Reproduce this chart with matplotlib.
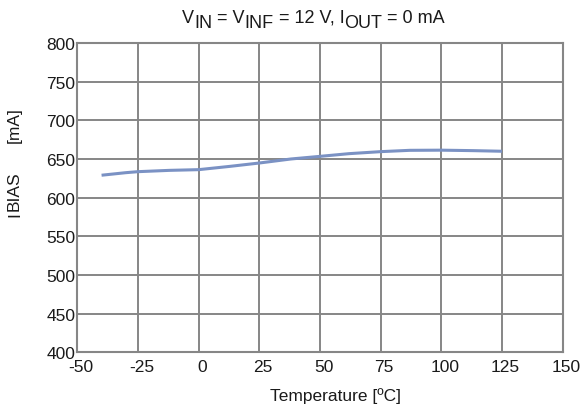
import matplotlib
matplotlib.use('Agg')
from matplotlib import pyplot as plt
from matplotlib import transforms

plt.rcParams['font.family'] = ['Liberation Sans', 'DejaVu Sans']

# bias current vs temperature, VIN = VINF = 12 V, IOUT = 0 mA
temp = [-40, -30, -25, -12, 0, 13, 25, 38, 50, 62, 75, 87, 100, 113, 125]
ibias = [629, 632.3, 633.6, 635.3, 636.2, 640.5, 644.8, 650, 653.4,
         656.9, 659.5, 661.2, 661.4, 660.8, 660]

xticks = [-50, -25, 0, 25, 50, 75, 100, 125, 150]
yticks = [400, 450, 500, 550, 600, 650, 700, 750, 800]

# title pieces, 1 = lowered subscript
title_parts = [('V', 0), ('IN', 1), (' = V', 0), ('INF', 1), (' = 12 V, I', 0),
               ('OUT', 1), (' = 0 mA', 0)]

grid_col = '#868686'
line_col = '#7b92c4'
txt_col = '#1a1a1a'
fs = 12.5

fig = plt.figure(figsize=(5.84, 4.10), dpi=100)
ax = fig.add_axes([77.3/584, 1 - 353.3/410, 485.4/584, 309.3/410])

ax.plot(temp, ibias, color=line_col, lw=2.2, solid_capstyle='butt', zorder=3)

ax.set_xlim(-50, 150)
ax.set_ylim(400, 800)
ax.set_xticks(xticks)
ax.set_yticks(yticks)
ax.set_xticklabels([str(t) for t in xticks])
ax.set_yticklabels([str(t) for t in yticks])
ax.grid(True, color=grid_col, lw=1.4)
ax.set_axisbelow(True)
for s in ax.spines.values():
    s.set_color(grid_col)
    s.set_linewidth(1.5)
ax.tick_params(axis='x', length=0, pad=5, labelsize=fs, labelcolor=txt_col)
ax.tick_params(axis='y', length=0, pad=1.5, labelsize=fs, labelcolor=txt_col)

# x labels sit a little right of their grid lines
shift = transforms.ScaledTranslation(3.5/100, 0, fig.dpi_scale_trans)
for lbl in ax.get_xticklabels():
    lbl.set_transform(lbl.get_transform() + shift)

fig.text(335/584, 1 - 401/410, 'Temperature [ºC]', ha='center', va='baseline',
         fontsize=fs, color=txt_col)

fig.canvas.draw()
r = fig.canvas.get_renderer()

# title, drawn piece by piece in pixels
x0 = 182.0
ybase = 410 - 23.0
for s, sub in title_parts:
    t = fig.text(x0, ybase - 5 * sub, s, ha='left', va='baseline',
                 fontsize=13, color=txt_col, transform=None)
    x0 = t.get_window_extent(r).x1

# y label, rotated
yl = fig.text(14.5/584, 1 - 217/410, 'I', rotation=90, ha='center', va='bottom',
              fontsize=fs, color=txt_col)
yb = yl.get_window_extent(r)
yl2 = fig.text(yb.x0 + yb.width/2, yb.y1 + 1, 'BIAS', rotation=90, ha='center',
               va='bottom', fontsize=fs, color=txt_col, transform=None)
yb2 = yl2.get_window_extent(r)
fig.text(yb.x0 + yb.width/2, yb2.y1 + 28, '[mA]', rotation=90, ha='center',
         va='bottom', fontsize=fs, color=txt_col, transform=None)

fig.savefig('out.png', dpi=100)
